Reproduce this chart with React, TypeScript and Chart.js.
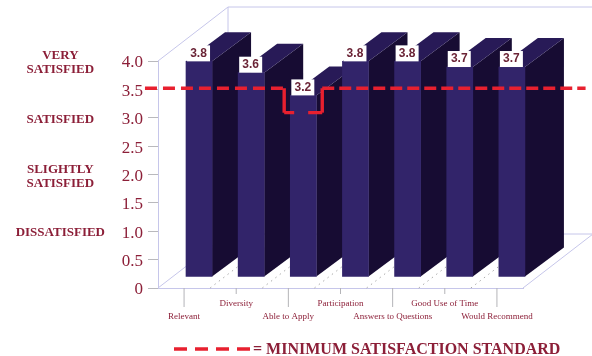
import React, { useEffect, useRef } from "react";
import { Chart, registerables } from "chart.js";

Chart.register(...registerables);

// Survey results
const categories = [
  "Relevant",
  "Diversity",
  "Able to Apply",
  "Participation",
  "Answers to Questions",
  "Good Use of Time",
  "Would Recommend",
];
const scores = [3.8, 3.6, 3.2, 3.8, 3.8, 3.7, 3.7];
const scoreTicks = [0, 0.5, 1, 1.5, 2, 2.5, 3, 3.5, 4];

// Verbal rating scale, positioned along the score axis
const ratingPositions = [0.97, 1.96, 2.97, 3.97];
const ratingLabels = [
  ["DISSATISFIED"],
  ["SLIGHTLY", "SATISFIED"],
  ["SATISFIED"],
  ["VERY", "SATISFIED"],
];

// Minimum standard line, with its notch around the third category
const standardX = [-0.25, 2.42, 2.42, 3.15, 3.15, 8.2];
const standardY = [3.52, 3.52, 3.09, 3.09, 3.52, 3.52];
const standardLabel = "= MINIMUM SATISFACTION STANDARD";

const SERIF = '"Liberation Serif", serif';
const MAROON = "#8c1f38";
const WALL = "#c6c6ea";
const RED = "#e8202f";

// Dash pattern per stretch of the standard line: the notch sides are solid
const standardDashes = [[12, 6], [], [10, 14, 14, 0], [], [12, 5]];

// Oblique projection of the box: full depth of the floor, and bar placement in it.
// The second x axis splits each category into two slots, so bars start half a slot
// left of the band centre and BAR_DX includes that extra 13px.
const WALL_DX = 70;
const WALL_DY = -54;
const BAR_DX = 28;
const BAR_DY = -11;
const BAR_DEPTH_X = 39;
const BAR_DEPTH_Y = -29;

const line = (ctx: CanvasRenderingContext2D, x0: number, y0: number, x1: number, y1: number) => {
  ctx.beginPath();
  ctx.moveTo(x0, y0);
  ctx.lineTo(x1, y1);
  ctx.stroke();
};

const poly = (ctx: CanvasRenderingContext2D, pts: number[][], fill: string) => {
  ctx.beginPath();
  pts.forEach(([x, y], i) => (i ? ctx.lineTo(x, y) : ctx.moveTo(x, y)));
  ctx.closePath();
  ctx.fillStyle = fill;
  ctx.fill();
};

// Floor, wall edges and the staggered category tick marks
const roomPlugin = {
  id: "room",
  beforeDatasetsDraw(chart: any) {
    const { ctx, chartArea: a, scales } = chart;
    const band = (a.right - a.left) / categories.length;
    ctx.save();
    ctx.strokeStyle = WALL;
    ctx.lineWidth = 1;
    line(ctx, a.left, a.top, a.left + WALL_DX, a.top + WALL_DY);
    line(ctx, a.left + WALL_DX, a.top + WALL_DY, 592, a.top + WALL_DY);
    line(ctx, a.left + WALL_DX, a.top + WALL_DY, a.left + WALL_DX, a.bottom + WALL_DY);
    line(ctx, a.left, a.bottom, a.left + WALL_DX, a.bottom + WALL_DY);
    line(ctx, a.left + WALL_DX, a.bottom + WALL_DY, 592, a.bottom + WALL_DY);
    line(ctx, a.right, a.bottom, a.right + WALL_DX, a.bottom + WALL_DY);

    ctx.strokeStyle = "#a9a9a9";
    ctx.setLineDash([1.5, 4]);
    for (let i = 1; i < categories.length; i++) {
      const x = a.left + band * i;
      line(ctx, x, a.bottom, x + WALL_DX, a.bottom + WALL_DY);
    }
    ctx.setLineDash([]);

    ctx.strokeStyle = "#b4b4b8";
    categories.forEach((_, i) => {
      const x = scales.x.getPixelForValue(i);
      line(ctx, x, a.bottom, x, a.bottom + (i % 2 === 0 ? 19 : 6));
    });
    ctx.restore();
  },
};

// Draws the depth faces behind the bars and shifts the bars into the box
const depthPlugin = {
  id: "depth",
  beforeDatasetDraw(chart: any, args: any) {
    if (args.index !== 0) return;
    const { ctx } = chart;
    ctx.save();
    ctx.translate(BAR_DX, BAR_DY);
    args.meta.data.forEach((el: any) => {
      const l = el.x - el.width / 2;
      const r = el.x + el.width / 2;
      const t = el.y;
      const b = el.base;
      const dx = BAR_DEPTH_X;
      const dy = BAR_DEPTH_Y;
      poly(ctx, [[r, t], [r + dx, t + dy], [r + dx, b + dy], [r, b]], "#170c33");
      poly(ctx, [[l, t], [r, t], [r + dx, t + dy], [l + dx, t + dy]], "#281a57");
    });
  },
  afterDatasetDraw(chart: any, args: any) {
    if (args.index !== 0) return;
    const { ctx } = chart;
    args.meta.data.forEach((el: any, i: number) => {
      ctx.fillStyle = "#ffffff";
      ctx.fillRect(el.x - 12, el.y - 16, 23, 16);
      ctx.fillStyle = "#6b2436";
      ctx.font = 'bold 12px "Liberation Sans", sans-serif';
      ctx.textAlign = "center";
      ctx.textBaseline = "middle";
      ctx.fillText(scores[i].toFixed(1), el.x - 0.5, el.y - 8);
    });
    ctx.restore();
  },
};

// Key for the standard line, below the category labels
const keyPlugin = {
  id: "standardKey",
  afterDraw(chart: any) {
    const { ctx } = chart;
    ctx.save();
    ctx.strokeStyle = RED;
    ctx.lineWidth = 3.4;
    ctx.setLineDash([13, 8]);
    line(ctx, 174, 349, 253, 349);
    ctx.setLineDash([]);
    ctx.fillStyle = MAROON;
    ctx.font = `bold 16px ${SERIF}`;
    ctx.textAlign = "left";
    ctx.textBaseline = "middle";
    ctx.fillText(standardLabel, 253, 350);
    ctx.restore();
  },
};

export default function App() {
  const ref = useRef<HTMLCanvasElement>(null);

  useEffect(() => {
    const chart = new Chart(ref.current!, {
      type: "bar",
      data: {
        labels: categories.map((c, i) => (i % 2 === 0 ? ["", c] : [c, ""])),
        datasets: [
          {
            type: "bar",
            label: "Score",
            data: scores,
            backgroundColor: "#32246a",
            barPercentage: 1,
            categoryPercentage: 1,
            clip: false,
            order: 2,
          },
          {
            type: "line",
            label: "Minimum satisfaction standard",
            data: standardX.map((x, i) => ({ x, y: standardY[i] })),
            xAxisID: "xStandard",
            borderColor: RED,
            borderWidth: 3.4,
            segment: {
              borderDash: (c: any) => standardDashes[c.p0DataIndex],
            },
            pointRadius: 0,
            tension: 0,
            fill: false,
            clip: false,
            order: 1,
          },
        ] as any,
      },
      options: {
        responsive: false,
        animation: false,
        layout: { padding: { top: 61, right: 69, bottom: 30, left: 0 } },
        plugins: { legend: { display: false }, tooltip: { enabled: false } },
        scales: {
          x: {
            type: "category",
            offset: true,
            grid: { display: false, drawTicks: false, tickLength: 0 },
            border: { color: WALL },
            ticks: {
              autoSkip: false,
              maxRotation: 0,
              minRotation: 0,
              padding: 9,
              color: MAROON,
              font: { family: SERIF, size: 9, lineHeight: 1.45 },
            },
            afterFit: (s: any) => {
              s.height = 38;
            },
          },
          xStandard: {
            type: "linear",
            display: false,
            offset: false,
            min: 0,
            max: 7,
          },
          y: {
            type: "linear",
            position: "left",
            min: 0,
            max: 4,
            weight: 0,
            afterBuildTicks: (s: any) => {
              s.ticks = scoreTicks.map((value) => ({ value }));
            },
            grid: { drawOnChartArea: false, tickLength: 10, tickColor: "#b9b9bd" },
            border: { color: WALL },
            ticks: {
              padding: 5,
              labelOffset: 2,
              color: MAROON,
              font: { family: SERIF, size: 17 },
              callback: (v: any) => (Number(v) === 0 ? "0" : Number(v).toFixed(1)),
            },
            afterFit: (s: any) => {
              s.width = 53;
            },
          },
          yRatings: {
            type: "linear",
            position: "left",
            min: 0,
            max: 4,
            weight: 10,
            afterBuildTicks: (s: any) => {
              s.ticks = ratingPositions.map((value) => ({ value }));
            },
            grid: { display: false, drawTicks: false, tickLength: 0 },
            border: { display: false },
            ticks: {
              padding: 0,
              crossAlign: "center",
              color: MAROON,
              font: { family: SERIF, size: 13, weight: "bold", lineHeight: 1.12 },
              callback: (v: any) => ratingLabels[ratingPositions.indexOf(Number(v))] ?? "",
            },
            afterFit: (s: any) => {
              s.width = 105;
            },
          },
        },
      } as any,
      plugins: [roomPlugin, depthPlugin, keyPlugin],
    });
    return () => chart.destroy();
  }, []);

  return (
    <canvas
      ref={ref}
      width={592}
      height={356}
      style={{ position: "absolute", left: 0, top: 0, display: "block" }}
    />
  );
}
